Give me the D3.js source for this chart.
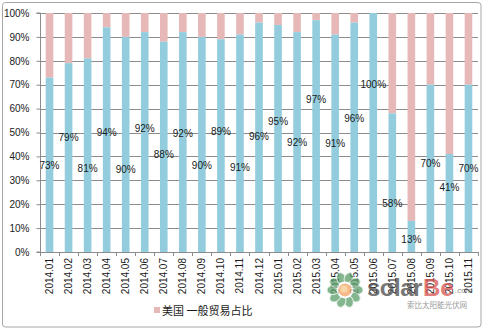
<!DOCTYPE html>
<html><head><meta charset="utf-8">
<script src="https://cdn.jsdelivr.net/npm/d3@7/dist/d3.min.js"></script>
<style>body{margin:0;background:#fff;}svg{display:block;font-family:Arial,"Liberation Sans",sans-serif;}</style>
</head><body>
<svg id="c" width="483" height="329"></svg>
<script>
const categories = ["2014.01","2014.02","2014.03","2014.04","2014.05","2014.06","2014.07","2014.08","2014.09","2014.10","2014.11","2014.12","2015.01","2015.02","2015.03","2015.04","2015.05","2015.06","2015.07","2015.08","2015.09","2015.10","2015.11"];
const generalTrade = [73,79,81,94,90,92,88,92,90,89,91,96,95,92,97,91,96,100,58,13,70,41,70];
// label heights (in % units) as placed in the original chart
const labelAt = [36.4,47.7,35,50,34.7,51.5,40.6,49.4,36.4,50.3,35.3,48.2,54.5,45.7,63.9,45.2,55.9,69.9,20.4,5.4,37.1,26.9,35];
const yTicks = [0,10,20,30,40,50,60,70,80,90,100];
const legendLabel = "美国 一般贸易占比";

const svg = d3.select("#c");
const L = 40, R = 478, T = 13, B = 252;
const x = d3.scaleBand().domain(categories).range([L, R]).paddingInner(0.6).paddingOuter(0.3);
const xb = d3.scaleBand().domain(categories).range([L, R]);
const y = d3.scaleLinear().domain([0, 100]).range([B, T]);

// outer border
svg.append("rect").attr("x", 2.5).attr("y", 2.5).attr("width", 478.5).attr("height", 324.5)
  .attr("rx", 3).attr("fill", "#fff").attr("stroke", "#a6a6a6").attr("stroke-width", 1);

// gridlines
svg.append("g").selectAll("line").data(yTicks.filter(d => d > 0)).join("line")
  .attr("x1", L).attr("x2", R).attr("y1", d => Math.round(y(d)) + 0.5).attr("y2", d => Math.round(y(d)) + 0.5)
  .attr("stroke", "#8c8c8c").attr("stroke-width", 1);

// bars
const g = svg.append("g");
g.selectAll("rect.rest").data(categories).join("rect").attr("class", "rest")
  .attr("x", d => x(d)).attr("width", x.bandwidth())
  .attr("y", y(100)).attr("height", (d, i) => y(generalTrade[i]) - y(100))
  .attr("fill", "#e6b9b8");
g.selectAll("rect.gen").data(categories).join("rect").attr("class", "gen")
  .attr("x", d => x(d)).attr("width", x.bandwidth())
  .attr("y", (d, i) => y(generalTrade[i])).attr("height", (d, i) => y(0) - y(generalTrade[i]))
  .attr("fill", "#93cddd");

// y axis
const ya = svg.append("g").attr("transform", `translate(${L + 0.5},0)`)
  .call(d3.axisLeft(y).tickValues(yTicks).tickFormat(d => d + "%").tickSize(4).tickPadding(7));
ya.select(".domain").attr("stroke", "#8c8c8c").attr("d", `M-4,${y(100)}H0V${y(0)}H-4`);
ya.selectAll(".tick line").attr("stroke", "#8c8c8c");
ya.selectAll(".tick text").attr("font-size", 10).attr("fill", "#1a1a1a").attr("font-family", "Arial, 'Liberation Sans', sans-serif");

// x axis
const xg = svg.append("g");
xg.append("line").attr("x1", L).attr("x2", R).attr("y1", B + 0.5).attr("y2", B + 0.5).attr("stroke", "#8c8c8c");
xg.selectAll("line.tk").data(categories.concat(["end"])).join("line").attr("class", "tk")
  .attr("x1", (d, i) => Math.round(i < categories.length ? xb(d) : R) + 0.5)
  .attr("x2", (d, i) => Math.round(i < categories.length ? xb(d) : R) + 0.5)
  .attr("y1", B).attr("y2", B + 4).attr("stroke", "#8c8c8c");
xg.selectAll("text").data(categories).join("text")
  .attr("transform", d => `translate(${xb(d) + xb.bandwidth() / 2 + 3.5},${B + 6}) rotate(-90)`)
  .attr("text-anchor", "end").attr("font-size", 10).attr("fill", "#1a1a1a").text(d => d);

// data labels
svg.append("g").selectAll("text").data(categories).join("text")
  .attr("x", d => x(d) + x.bandwidth() / 2)
  .attr("y", (d, i) => y(labelAt[i]) + 3.5)
  .attr("text-anchor", "middle").attr("font-size", 10).attr("fill", "#1a1a1a")
  .text((d, i) => generalTrade[i] + "%");

// legend
svg.append("rect").attr("x", 154).attr("y", 307).attr("width", 6).attr("height", 6).attr("fill", "#e6b9b8");
svg.append("text").attr("x", 162).attr("y", 315).attr("font-size", 11)
  .attr("font-family", "'Noto Sans CJK SC', sans-serif").attr("fill", "#1a1a1a").text(legendLabel);

// watermark
const wm = svg.append("g").attr("opacity", 0.75);
const cx = 345, cy = 290;
d3.range(10).forEach(k => {
  const a = k * 36 * Math.PI / 180;
  wm.append("ellipse").attr("cx", cx + 12 * Math.cos(a)).attr("cy", cy + 12 * Math.sin(a))
    .attr("rx", 6).attr("ry", 4.5).attr("transform", `rotate(${k * 36},${cx + 12 * Math.cos(a)},${cy + 12 * Math.sin(a)})`)
    .attr("fill", "#5a9e6a").attr("stroke", "#dfeee2").attr("stroke-width", 1);
});
wm.append("circle").attr("cx", cx).attr("cy", cy).attr("r", 8.5).attr("fill", "#fff");
wm.append("circle").attr("cx", cx).attr("cy", cy).attr("r", 6.5).attr("fill", "#f3a262");
wm.append("circle").attr("cx", cx - 1).attr("cy", cy - 1).attr("r", 3.5).attr("fill", "#f7c98a");
wm.append("text").attr("x", 367).attr("y", 296).attr("font-size", 24).attr("font-weight", "bold")
  .attr("fill", "#4a4a4a").attr("letter-spacing", -0.5).text("solar");
wm.append("text").attr("x", 423).attr("y", 296).attr("font-size", 24).attr("font-weight", "bold")
  .attr("fill", "#d9534f").text("Be");
wm.append("text").attr("x", 455).attr("y", 293).attr("font-size", 8).attr("font-style", "italic")
  .attr("fill", "#666").text(".com");
wm.append("text").attr("x", 407).attr("y", 308).attr("font-size", 7.5)
  .attr("font-family", "'Noto Sans CJK SC', sans-serif").attr("fill", "#777").text("索比太阳能光伏网");
</script>
</body></html>
